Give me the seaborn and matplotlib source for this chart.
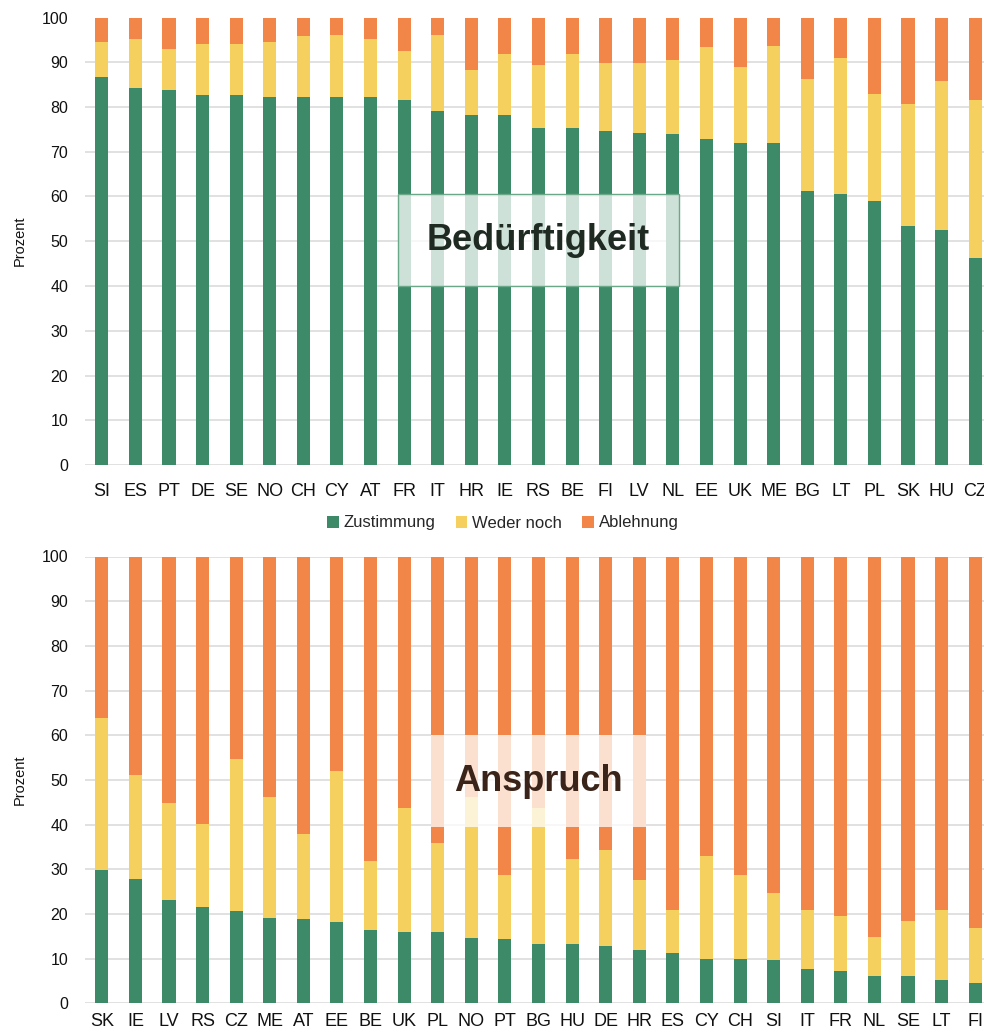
import matplotlib
matplotlib.use("Agg")
import matplotlib.pyplot as plt
import seaborn as sns
import numpy as np
from matplotlib.patches import Patch, Rectangle

sns.set_style("white")
plt.rcParams["font.family"] = ["Liberation Sans", "DejaVu Sans"]

# Colours for the three answer categories
GREEN = "#3d8a68"
YELLOW = "#f5d05e"
ORANGE = "#f28548"
legend_labels = ["Zustimmung", "Weder noch", "Ablehnung"]

# Panel 1: Bedürftigkeit (shares in percent)
need_countries = ["SI", "ES", "PT", "DE", "SE", "NO", "CH", "CY", "AT", "FR", "IT", "HR", "IE",
                  "RS", "BE", "FI", "LV", "NL", "EE", "UK", "ME", "BG", "LT", "PL", "SK", "HU", "CZ"]
need_agree = [86.6, 84.2, 83.9, 82.7, 82.7, 82.3, 82.3, 82.3, 82.3, 81.5, 79.1, 78.3, 78.3,
              75.2, 75.2, 74.7, 74.3, 73.9, 72.8, 72.0, 72.0, 61.3, 60.5, 58.9, 53.4, 52.5, 46.3]
need_neutral = [8.0, 11.1, 9.1, 11.4, 11.4, 12.3, 13.5, 13.8, 13.0, 11.1, 17.0, 10.0, 13.5,
                14.2, 16.6, 15.1, 15.5, 16.7, 20.6, 16.9, 21.7, 24.9, 30.5, 24.1, 27.3, 33.4, 35.2]
need_reject = [5.4, 4.7, 7.0, 5.9, 5.9, 5.4, 4.2, 3.9, 4.7, 7.4, 3.9, 11.7, 8.2,
               10.6, 8.2, 10.2, 10.2, 9.4, 6.6, 11.1, 6.3, 13.8, 9.0, 17.0, 19.3, 14.1, 18.5]

# Panel 2: Anspruch (shares in percent)
claim_countries = ["SK", "IE", "LV", "RS", "CZ", "ME", "AT", "EE", "BE", "UK", "PL", "NO", "PT",
                   "BG", "HU", "DE", "HR", "ES", "CY", "CH", "SI", "IT", "FR", "NL", "SE", "LT", "FI"]
claim_agree = [29.8, 27.8, 23.1, 21.5, 20.7, 19.1, 18.8, 18.3, 16.4, 15.9, 15.9, 14.7, 14.4,
               13.2, 13.2, 12.8, 11.9, 11.2, 10.0, 10.0, 9.6, 7.7, 7.2, 6.1, 6.1, 5.2, 4.5]
claim_neutral = [34.0, 23.4, 21.8, 18.6, 34.0, 27.0, 19.0, 33.7, 15.4, 27.7, 19.9, 31.5, 14.3,
                 30.4, 19.0, 21.5, 15.6, 9.6, 23.0, 18.7, 15.1, 13.1, 12.3, 8.7, 12.3, 15.6, 12.3]
claim_reject = [36.2, 48.8, 55.1, 59.9, 45.3, 53.9, 62.2, 48.0, 68.2, 56.4, 64.2, 53.8, 71.3,
                56.4, 67.8, 65.7, 72.5, 79.2, 67.0, 71.3, 75.3, 79.2, 80.5, 85.2, 81.6, 79.2, 83.2]

W, H, DPI = 984, 1032, 100
fig = plt.figure(figsize=(W / DPI, H / DPI), dpi=DPI)

def px_axes(left, top, right, bottom):
    return fig.add_axes([left / W, 1 - bottom / H, (right - left) / W, (bottom - top) / H])

ax_top = px_axes(85, 17.5, 992, 465)
ax_bot = px_axes(85, 556.5, 992, 1003.3)


def stacked_panel(ax, countries, agree, neutral, reject, title, box, box_edge, text_color, xpad):
    agree = np.array(agree)
    neutral = np.array(neutral)
    reject = np.array(reject)
    layers = [(agree + neutral + reject, ORANGE), (agree + neutral, YELLOW), (agree, GREEN)]
    for heights, col in layers:
        sns.barplot(x=countries, y=heights, order=countries, color=col, saturation=1,
                    width=0.39, ax=ax, linewidth=0, zorder=2)
    ax.set_xlim(-0.5, len(countries) - 0.5)
    ax.set_ylim(0, 100)
    ax.set_yticks(range(0, 101, 10))
    ax.yaxis.grid(True, color="#d9d9d9", linewidth=1.1, zorder=0)
    ax.set_axisbelow(True)
    for s in ax.spines.values():
        s.set_visible(False)
    ax.tick_params(axis="y", length=0, pad=12, labelsize=11.5, labelcolor="#111111")
    ax.tick_params(axis="x", length=0, pad=xpad, labelsize=13, labelcolor="#111111")
    ax.set_xlabel("")
    ax.set_ylabel("Prozent", fontsize=10.5, color="#111111")
    ax.yaxis.set_label_coords(-0.064, 0.5)
    # translucent label box over the bars
    x0, x1, y0, y1 = box
    ax.add_patch(Rectangle((x0 - 0.19, y0), (x1 - x0) + 0.38, y1 - y0,
                           facecolor="white", alpha=0.75, edgecolor="none", zorder=5))
    if box_edge is not None:
        ax.add_patch(Rectangle((x0 - 0.19, y0), (x1 - x0) + 0.38, y1 - y0,
                               facecolor="none", edgecolor=box_edge, linewidth=1.0, zorder=6))
    ax.text((x0 + x1) / 2, (y0 + y1) / 2, title, ha="center", va="center",
            fontsize=26, fontweight="bold", color=text_color, zorder=7)


stacked_panel(ax_top, need_countries, need_agree, need_neutral, need_reject,
              "Bedürftigkeit", (9, 17, 40.0, 60.5), "#6aa889", "#1e2a22", 13)
stacked_panel(ax_bot, claim_countries, claim_agree, claim_neutral, claim_reject,
              "Anspruch", (10, 16, 39.5, 60.0), None, "#3a2318", 7)

handles = [Patch(facecolor=c, edgecolor="none") for c in (GREEN, YELLOW, ORANGE)]
fig.legend(handles, legend_labels, loc="center", bbox_to_anchor=(503 / W, 1 - 523 / H),
           ncol=3, frameon=False, fontsize=12, handlelength=0.7, handleheight=0.7,
           handletextpad=0.3, columnspacing=1.2)

fig.savefig("out.png", dpi=DPI)
